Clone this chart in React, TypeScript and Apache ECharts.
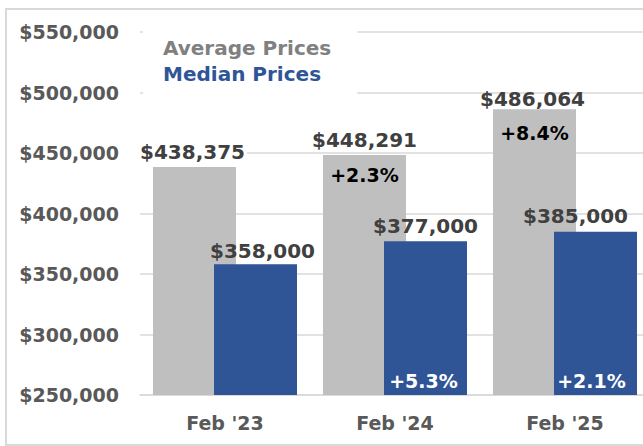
import React, { useEffect, useRef } from "react";
import * as echarts from "echarts";

const categories = ["Feb '23", "Feb '24", "Feb '25"];
const averagePrices = [438375, 448291, 486064];
const medianPrices = [358000, 377000, 385000];
const averageChange: (number | null)[] = [null, 2.3, 8.4];
const medianChange: (number | null)[] = [null, 5.3, 2.1];
const yTicks = { min: 250000, max: 550000, interval: 50000 };

const FONT = "DejaVu Sans";
const GRAY = "#BFBFBF";
const BLUE = "#2F5597";

const money = (v: number) => "$" + v.toLocaleString("en-US");
const pct = (v: number | null) => (v == null ? "" : "+" + v.toFixed(1) + "%");

// label fine-tuning per category (style only)
const avgLabelStyle = [
  { distance: 5, offset: [-2, 0], backgroundColor: "#ffffff", padding: [0, 2] },
  { distance: 5, offset: [0, 0] },
  { distance: 0, offset: [-2, 0] },
];
const medLabelStyle = [
  { distance: 3, offset: [7, 0] },
  { distance: 5, offset: [0, 0] },
  { distance: 6, offset: [-20, 0] },
];
const avgPctStyle = [{ distance: 10 }, { distance: 10 }, { distance: 14 }];
const medPctStyle = [{ offset: [0, 0] }, { offset: [-2, 0] }, { offset: [-4, 0] }];

export default function App() {
  const ref = useRef<HTMLDivElement>(null);
  useEffect(() => {
    if (!ref.current) return;
    const chart = echarts.init(ref.current, null, { renderer: "svg" });
    const labelBase = {
      fontFamily: FONT,
      fontWeight: "bold" as const,
      fontSize: 20,
      lineHeight: 20,
    };
    const barCommon = {
      type: "bar" as const,
      barWidth: 83,
      barGap: "-26.5%",
      stackStrategy: "all" as const,
    };
    chart.setOption({
      animation: false,
      backgroundColor: "#ffffff",
      grid: { left: 140, width: 510, top: 32, height: 363, outerBoundsMode: "none" },
      legend: {
        orient: "vertical",
        left: 143,
        top: 22,
        icon: "none",
        itemWidth: 0,
        itemHeight: 0,
        itemGap: 6,
        padding: [16, 26, 16, 15],
        backgroundColor: "#ffffff",
        selectedMode: false,
        textStyle: { fontFamily: FONT, fontWeight: "bold", fontSize: 20, lineHeight: 20 },
        data: [
          { name: "Average Prices", textStyle: { color: "#808080" } },
          { name: "Median Prices", textStyle: { color: BLUE } },
        ],
      },
      graphic: [
        {
          type: "rect",
          z: -10,
          silent: true,
          shape: { x: 6, y: 9, width: 700, height: 436 },
          style: { fill: "none", stroke: "#D9D9D9", lineWidth: 2 },
        },
      ],
      xAxis: {
        type: "category",
        data: categories,
        axisLine: { lineStyle: { color: "#D9D9D9", width: 1.5 } },
        axisTick: { show: false },
        axisLabel: {
          margin: 18,
          color: "#595959",
          fontFamily: FONT,
          fontWeight: "bold",
          fontSize: 19,
        },
      },
      yAxis: {
        type: "value",
        min: yTicks.min,
        max: yTicks.max,
        interval: yTicks.interval,
        axisLine: { show: false },
        axisTick: { show: false },
        splitLine: { lineStyle: { color: "#D9D9D9", width: 1.5 } },
        axisLabel: {
          margin: 21,
          color: "#595959",
          fontFamily: FONT,
          fontWeight: "bold",
          fontSize: 19,
          formatter: (v: number) => money(v),
        },
      },
      series: [
        {
          ...barCommon,
          name: "Average Prices",
          stack: "avg",
          itemStyle: { color: GRAY },
          data: averagePrices.map((v, i) => ({ value: v, label: avgLabelStyle[i] })),
          label: {
            show: true,
            position: "top",
            color: "#404040",
            ...labelBase,
            formatter: (p: any) => money(averagePrices[p.dataIndex]),
          },
        },
        {
          ...barCommon,
          name: "Average Change",
          stack: "avg",
          itemStyle: { color: "rgba(0,0,0,0)" },
          data: averageChange.map((_, i) => ({ value: 0, label: avgPctStyle[i] })),
          label: {
            show: true,
            position: "bottom",
            color: "#000000",
            ...labelBase,
            fontSize: 19,
            formatter: (p: any) => pct(averageChange[p.dataIndex]),
          },
        },
        {
          ...barCommon,
          name: "Median Prices",
          stack: "med",
          itemStyle: { color: BLUE },
          data: medianPrices.map((v, i) => ({ value: v, label: medPctStyle[i] })),
          label: {
            show: true,
            position: "insideBottom",
            distance: 4,
            color: "#ffffff",
            ...labelBase,
            fontSize: 19,
            formatter: (p: any) => pct(medianChange[p.dataIndex]),
          },
        },
        {
          ...barCommon,
          name: "Median Value",
          stack: "med",
          itemStyle: { color: "rgba(0,0,0,0)" },
          data: medianPrices.map((_, i) => ({ value: 0, label: medLabelStyle[i] })),
          label: {
            show: true,
            position: "top",
            color: "#404040",
            ...labelBase,
            formatter: (p: any) => money(medianPrices[p.dataIndex]),
          },
        },
      ],
    });
    return () => chart.dispose();
  }, []);
  return (
    <div
      ref={ref}
      style={{ position: "absolute", left: 0, top: 0, width: 643, height: 446 }}
    />
  );
}
